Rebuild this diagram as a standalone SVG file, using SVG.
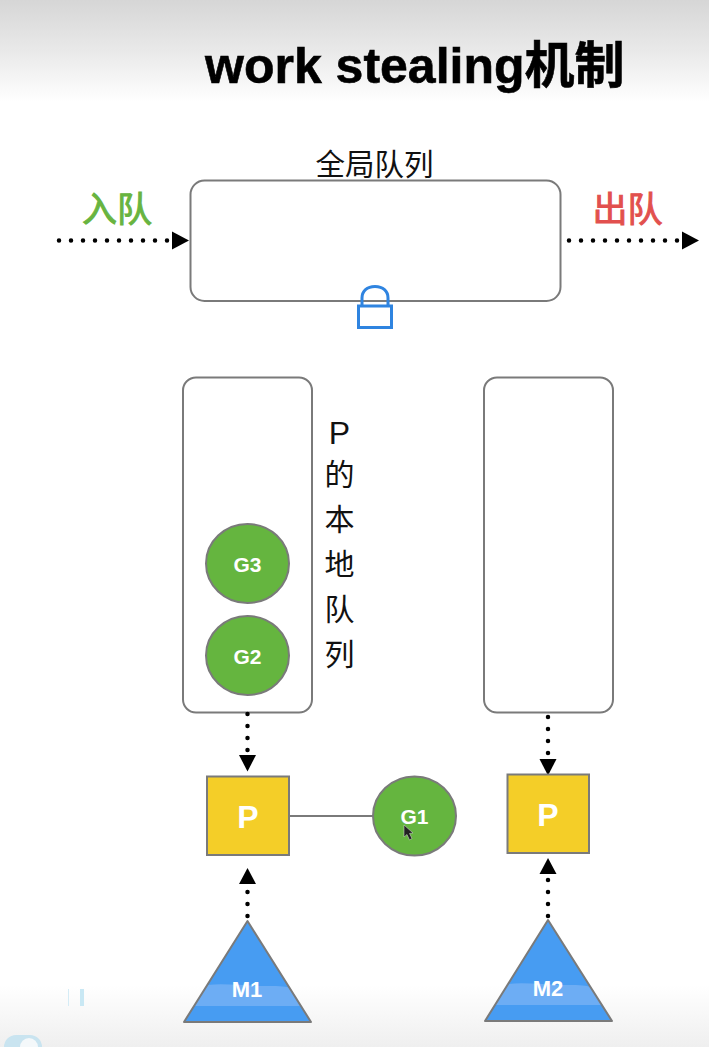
<svg xmlns="http://www.w3.org/2000/svg" width="709" height="1047" viewBox="0 0 709 1047">
<style>
  .cjk { font-family: "Liberation Sans", "Noto Sans CJK SC", sans-serif; }
  .queue { fill: #fff; stroke: #7a7a7a; stroke-width: 2; }
  .g { fill: #65b53f; stroke: #7a7a7a; stroke-width: 2; }
  .p { fill: #f4ce28; stroke: #7a7a7a; stroke-width: 2; }
  .m { fill: #479cf2; }
  .edge { fill: none; stroke: #7a7a7a; stroke-width: 2; stroke-linejoin: round; }
  .band { fill: #6dadf4; }
  .on { font-family: "Liberation Sans", sans-serif; font-weight: bold; fill: #fff; text-anchor: middle; }
  .dots { fill: none; stroke: #000; stroke-width: 4.500; stroke-linecap: round; stroke-dasharray: 0 12; }
  .side { font-size: 30px; fill: #111; text-anchor: middle; }
</style>
<defs>
  <linearGradient id="topShade" x1="0" y1="0" x2="0" y2="1">
    <stop offset="0" stop-color="#d6d6d6"/>
    <stop offset="0.5" stop-color="#e9e9e9"/>
    <stop offset="1" stop-color="#fff"/>
  </linearGradient>
  <linearGradient id="bottomShade" x1="0" y1="0" x2="0" y2="1">
    <stop offset="0" stop-color="#fff"/>
    <stop offset="1" stop-color="#efefef"/>
  </linearGradient>
</defs>

<rect width="709" height="1047" fill="#fff"/>
<rect width="709" height="102" fill="url(#topShade)"/>
<rect y="985" width="709" height="62" fill="url(#bottomShade)"/>

<g id="corner-marks">
  <rect x="68" y="989" width="1" height="17" fill="#d5ecf6"/>
  <rect x="80" y="989" width="4" height="17" fill="#c9e8f4"/>
  <rect x="4" y="1035" width="38" height="24" rx="12" fill="#c9e4f0"/>
  <circle cx="29" cy="1047" r="9" fill="#f4f8fa"/>
</g>

<g id="title">
  <text class="cjk" x="205" y="83" font-size="50" font-weight="bold" fill="#000" stroke="#000" stroke-width="0.600">work stealing机制</text>
</g>

<g id="global-queue">
  <rect class="queue" x="190.500" y="180.500" width="370" height="120.500" rx="14"/>
  <text class="cjk" x="374.500" y="175" font-size="29.500" text-anchor="middle" fill="#111">全局队列</text>
</g>

<g id="enqueue-label">
  <text class="cjk" x="117" y="222" font-size="35" text-anchor="middle" fill="#68b43f" stroke="#68b43f" stroke-width="1">入队</text>
</g>
<g id="dequeue-label">
  <text class="cjk" x="627.500" y="222" font-size="35" text-anchor="middle" fill="#e2504e" stroke="#e2504e" stroke-width="1">出队</text>
</g>

<g id="lock" fill="none" stroke="#2f84e0" stroke-width="3">
  <rect x="358.500" y="306" width="33" height="21.500" fill="#fff"/>
  <path d="M362 306V298C362 291 367 286.500 375 286.500C383 286.500 388 291 388 298V306"/>
</g>

<g id="local-queue-1">
  <rect class="queue" x="183" y="377.500" width="129" height="335" rx="13"/>
</g>
<g id="local-queue-2">
  <rect class="queue" x="484" y="377.500" width="129" height="335" rx="13"/>
</g>

<g id="local-queue-label">
  <text class="side" font-family="Liberation Sans, sans-serif" x="339.500" y="444" style="font-size:32px">P</text>
  <text class="side cjk" x="339.500" y="485">的</text>
  <text class="side cjk" x="339.500" y="530">本</text>
  <text class="side cjk" x="339.500" y="575">地</text>
  <text class="side cjk" x="339.500" y="620">队</text>
  <text class="side cjk" x="339.500" y="665">列</text>
</g>

<g id="connectors">
  <path class="dots" d="M59 240.500H168"/>
  <path d="M172 231.500V249.500L189 240.500Z"/>
  <path class="dots" d="M569 240.500H678"/>
  <path d="M682 231.500V249.500L699 240.500Z"/>

  <path class="dots" d="M247.500 714V752"/>
  <path d="M239 755H256L247.500 771.500Z"/>
  <path class="dots" d="M247.500 916V890"/>
  <path d="M239 884H256L247.500 868Z"/>

  <path class="dots" d="M548 717V755"/>
  <path d="M539.500 759H556.500L548 775.500Z"/>
  <path class="dots" d="M548 916V878"/>
  <path d="M539.500 874H556.500L548 858Z"/>

  <path d="M289 816H373" fill="none" stroke="#7a7a7a" stroke-width="2"/>
</g>

<g id="g3">
  <ellipse class="g" cx="247.500" cy="563.500" rx="41.500" ry="39.500"/>
  <text class="on" x="247.500" y="571.500" font-size="21">G3</text>
</g>
<g id="g2">
  <ellipse class="g" cx="247.500" cy="655.500" rx="41.500" ry="39.500"/>
  <text class="on" x="247.500" y="663.500" font-size="21">G2</text>
</g>
<g id="g1">
  <ellipse class="g" cx="414.500" cy="816" rx="41.500" ry="39.500"/>
  <text class="on" x="414.500" y="824" font-size="21">G1</text>
  <path d="M404 825V837L407 834.500L409.500 840L412 838.500L409.500 833.500L413 833Z" fill="#222" stroke="#ddd" stroke-width="0.500"/>
</g>

<g id="p1">
  <rect class="p" x="207" y="776.500" width="82" height="78.500"/>
  <text class="on" x="248" y="827.500" font-size="32">P</text>
</g>
<g id="p2">
  <rect class="p" x="507.500" y="774.500" width="81.500" height="78.500"/>
  <text class="on" x="548" y="825.500" font-size="32">P</text>
</g>

<g id="m1">
  <path class="m" d="M247.500 921L311 1022H184Z"/>
  <path class="band" d="M207.500 985C225 983 245 986 265 986C275 986 285 986 290 988L301 1006H194Z"/>
  <path class="edge" d="M247.500 921L311 1022H184Z"/>
  <text class="on" x="247" y="997" font-size="22">M1</text>
</g>
<g id="m2">
  <path class="m" d="M548 920L612 1021H485Z"/>
  <path class="band" d="M508 984C525 982 545 985 565 985C575 985 585 985 590 987L602 1005H495Z"/>
  <path class="edge" d="M548 920L612 1021H485Z"/>
  <text class="on" x="548" y="996" font-size="22">M2</text>
</g>
</svg>
